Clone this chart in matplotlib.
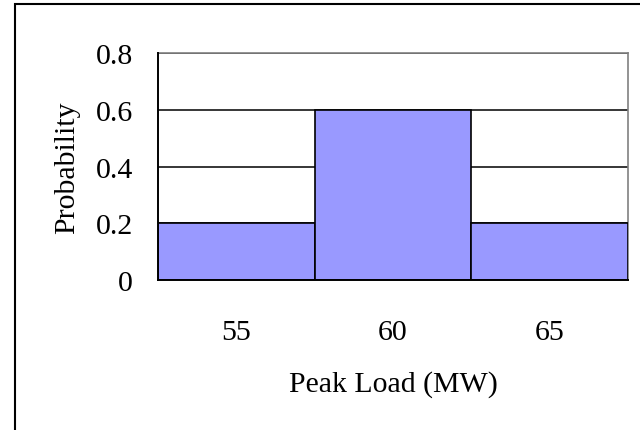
import matplotlib.pyplot as plt
from matplotlib.patches import Rectangle

# Данные
peak_load = ["55", "60", "65"]
probability = [0.2, 0.6, 0.2]
y_ticks = [0, 0.2, 0.4, 0.6, 0.8]
y_tick_labels = ["0", "0.2", "0.4", "0.6", "0.8"]

plt.rcParams['font.family'] = ['Liberation Serif', 'DejaVu Serif']
fs = 21.5

fig = plt.figure(figsize=(6.4, 4.31), dpi=100)
ax = fig.add_axes([158 / 640, 1 - 281 / 431, 470 / 640, 227 / 431])

x = list(range(len(peak_load)))
ax.bar(x, probability, width=1.0, color='#9999FF', edgecolor='black', linewidth=1.2, zorder=3)

ax.set_xlim(-0.5, len(peak_load) - 0.5)
ax.set_ylim(0, 0.8)
ax.set_yticks(y_ticks)
ax.set_yticklabels(y_tick_labels, fontsize=fs)
ax.set_xticks(x)
ax.set_xticklabels(peak_load, fontsize=fs)
ax.tick_params(axis='y', length=0, pad=18)
ax.tick_params(axis='x', length=0, pad=28)

ax.yaxis.grid(True, color='black', linewidth=1.1, zorder=1)
ax.set_axisbelow(True)

for side in ['left', 'bottom']:
    ax.spines[side].set_color('black')
    ax.spines[side].set_linewidth(1.4)
    ax.spines[side].set_zorder(4)
for side in ['top', 'right']:
    ax.spines[side].set_color('#808080')
    ax.spines[side].set_linewidth(1.2)

ax.set_ylabel('Probability', fontsize=fs, labelpad=11)
ax.set_xlabel('Peak Load (MW)', fontsize=fs, labelpad=18)

# Рамка вокруг диаграммы
fig.patches.append(Rectangle((15 / 640, -0.1), 1.1, 1 - 5 / 431 + 0.1,
                             transform=fig.transFigure, fill=False,
                             edgecolor='black', linewidth=1.5))

fig.savefig('out.png', dpi=100)
